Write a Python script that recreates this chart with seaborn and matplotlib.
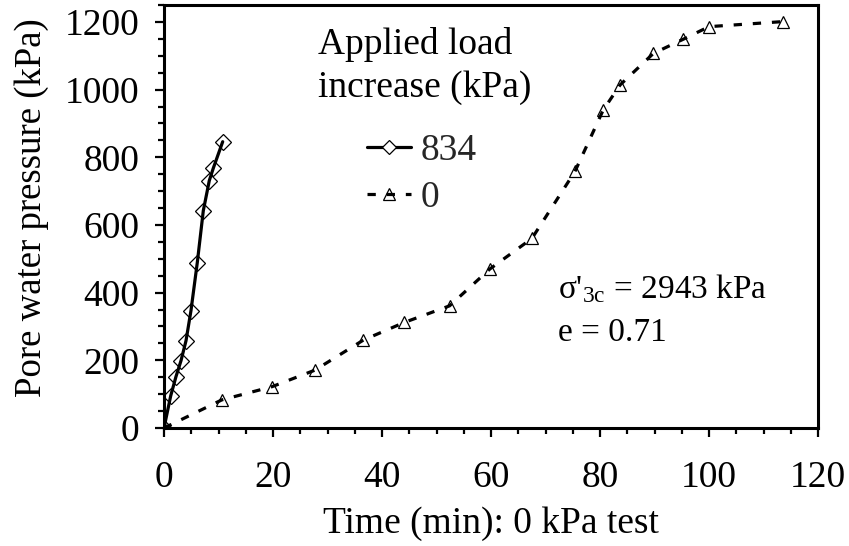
import matplotlib
matplotlib.use("Agg")
import matplotlib.pyplot as plt
import seaborn as sns
import pandas as pd
from matplotlib.ticker import MultipleLocator
from matplotlib.lines import Line2D

# ---- data ----
t_834 = [0.0, 1.23, 2.2, 3.12, 4.04, 4.95, 6.11, 7.21, 8.31, 9.05, 10.77]
u_834 = [0, 95, 152, 199, 258, 347, 489, 642, 731, 768, 846]

t_0 = [0.0, 10.6, 19.8, 27.7, 36.6, 44.1, 52.4, 59.8, 67.5, 75.4, 80.6, 83.7,
       89.8, 95.3, 100.0, 113.6]
u_0 = [0, 83, 122, 171, 260, 312, 361, 470, 560, 758, 940, 1014,
       1107, 1149, 1186, 1201]

series_labels = ["834", "0"]
x_ticks = [0, 20, 40, 60, 80, 100, 120]
y_ticks = [0, 200, 400, 600, 800, 1000, 1200]

df834 = pd.DataFrame({"t": t_834, "u": u_834})
df0 = pd.DataFrame({"t": t_0, "u": u_0})

sns.set_theme(style="white")
plt.rcParams["font.family"] = ["Liberation Serif", "DejaVu Serif"]
plt.rcParams["mathtext.fontset"] = "custom"
plt.rcParams["mathtext.rm"] = "Liberation Serif"
plt.rcParams["mathtext.it"] = "Liberation Serif:italic"

FS = 27
W, H = 849, 546
fig = plt.figure(figsize=(W / 100, H / 100), dpi=100)
ax = fig.add_axes([164 / W, 1 - 428 / H, (818 - 164) / W, (428 - 5) / H])

sns.lineplot(data=df834, x="t", y="u", ax=ax, sort=False, estimator=None,
             color="black", linewidth=2.3, marker="D", markersize=8.5,
             markerfacecolor="none", markeredgecolor="black",
             markeredgewidth=0.9)
sns.lineplot(data=df0, x="t", y="u", ax=ax, sort=False, estimator=None,
             color="black", linewidth=2.3, marker="^", markersize=9,
             markerfacecolor="none", markeredgecolor="black",
             markeredgewidth=0.9, dashes=False)
ax.lines[1].set_dashes([2.6, 3.4])

ax.set_xlim(0, 120)
ax.set_ylim(0, 1250)
ax.set_xticks(x_ticks)
ax.set_yticks(y_ticks)
ax.xaxis.set_minor_locator(MultipleLocator(5))
ax.yaxis.set_minor_locator(MultipleLocator(50))
ax.tick_params(axis="both", which="major", direction="out", length=6.5,
               width=1.6, labelsize=FS, color="black",
               bottom=True, left=True, top=False, right=False)
ax.tick_params(axis="both", which="minor", direction="out", length=4.5,
               width=1.6, color="black", bottom=True, left=True,
               top=False, right=False)
ax.tick_params(axis="x", which="major", pad=17)
ax.tick_params(axis="y", which="major", pad=11)
for sp in ax.spines.values():
    sp.set_visible(True)
    sp.set_color("black")
    sp.set_linewidth(2.2)

ax.set_xlabel("Time (min): 0 kPa test", fontsize=FS, color="black")
ax.set_ylabel("Pore water pressure (kPa)", fontsize=26.5, color="black")
ax.xaxis.set_label_coords(0.5, (428 - 524) / 423)
ax.xaxis.label.set_va("center")
ax.yaxis.set_label_coords((32 - 164) / 654, (428 - 208) / 423)
ax.yaxis.label.set_va("center")
for lab in ax.get_xticklabels() + ax.get_yticklabels():
    lab.set_color("black")

# legend
h1 = Line2D([], [], color="black", linewidth=2.3, marker="D", markersize=7,
            markerfacecolor="white", markeredgecolor="black", markeredgewidth=0.9)
h2 = Line2D([], [], color="black", linewidth=2.3, marker="^", markersize=8,
            markerfacecolor="none", markeredgecolor="black", markeredgewidth=0.9,
            dashes=[2.6, 3.4])
fig.legend([h1, h2], series_labels, loc="upper left",
           bbox_to_anchor=(367 / W, 1 - 134 / H), frameon=False, fontsize=FS,
           handlelength=1.17, handletextpad=0.27, labelspacing=0.33,
           borderpad=0, borderaxespad=0)

fig.text(318 / W, 1 - 45 / H, "Applied load", fontsize=FS, va="center",
         ha="left", color="black")
fig.text(318 / W, 1 - 88 / H, "increase (kPa)", fontsize=FS, va="center",
         ha="left", color="black")

fig.text(558 / W, 1 - 289 / H, "σ'$_{\\mathrm{3c}}$ = 2943 kPa", fontsize=24,
         va="center", ha="left", color="black")
fig.text(558 / W, 1 - 333 / H, "e = 0.71", fontsize=24, va="center",
         ha="left", color="black")

fig.savefig("out.png", dpi=100, facecolor="white")
